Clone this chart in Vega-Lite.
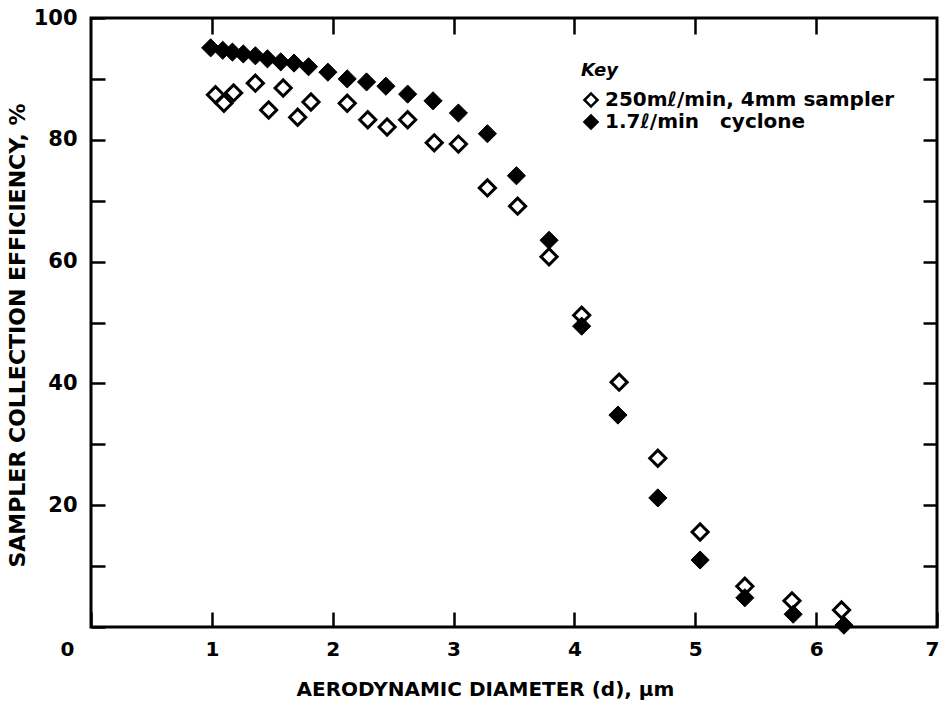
{
  "$schema": "https://vega.github.io/schema/vega-lite/v6.json",
  "width": 846,
  "height": 609,
  "autosize": "none",
  "padding": {"left": 91, "top": 18, "right": 4, "bottom": 86},
  "background": "white",
  "config": {
    "view": {"stroke": "black", "strokeWidth": 3},
    "font": "DejaVu Sans",
    "axis": {
      "domain": false,
      "grid": false,
      "tickColor": "black",
      "tickWidth": 2.5,
      "labelColor": "black",
      "titleColor": "black",
      "labelFont": "DejaVu Sans",
      "titleFont": "DejaVu Sans",
      "labelFontWeight": "bold",
      "titleFontWeight": "bold"
    }
  },
  "data": {
    "values": [
      {"d": 1.03, "eff": 87.4, "series": "open"},
      {"d": 1.10, "eff": 86.0, "series": "open"},
      {"d": 1.18, "eff": 87.7, "series": "open"},
      {"d": 1.36, "eff": 89.3, "series": "open"},
      {"d": 1.47, "eff": 84.9, "series": "open"},
      {"d": 1.59, "eff": 88.5, "series": "open"},
      {"d": 1.71, "eff": 83.7, "series": "open"},
      {"d": 1.82, "eff": 86.2, "series": "open"},
      {"d": 2.12, "eff": 86.0, "series": "open"},
      {"d": 2.29, "eff": 83.3, "series": "open"},
      {"d": 2.45, "eff": 82.1, "series": "open"},
      {"d": 2.62, "eff": 83.3, "series": "open"},
      {"d": 2.84, "eff": 79.5, "series": "open"},
      {"d": 3.04, "eff": 79.3, "series": "open"},
      {"d": 3.28, "eff": 72.1, "series": "open"},
      {"d": 3.53, "eff": 69.1, "series": "open"},
      {"d": 3.79, "eff": 60.8, "series": "open"},
      {"d": 4.06, "eff": 51.2, "series": "open"},
      {"d": 4.37, "eff": 40.2, "series": "open"},
      {"d": 4.69, "eff": 27.7, "series": "open"},
      {"d": 5.04, "eff": 15.6, "series": "open"},
      {"d": 5.41, "eff": 6.7, "series": "open"},
      {"d": 5.80, "eff": 4.3, "series": "open"},
      {"d": 6.21, "eff": 2.8, "series": "open"},
      {"d": 0.99, "eff": 95.1, "series": "filled"},
      {"d": 1.09, "eff": 94.7, "series": "filled"},
      {"d": 1.17, "eff": 94.4, "series": "filled"},
      {"d": 1.26, "eff": 94.1, "series": "filled"},
      {"d": 1.36, "eff": 93.8, "series": "filled"},
      {"d": 1.46, "eff": 93.3, "series": "filled"},
      {"d": 1.57, "eff": 92.8, "series": "filled"},
      {"d": 1.68, "eff": 92.6, "series": "filled"},
      {"d": 1.80, "eff": 92.0, "series": "filled"},
      {"d": 1.96, "eff": 91.1, "series": "filled"},
      {"d": 2.12, "eff": 90.0, "series": "filled"},
      {"d": 2.28, "eff": 89.5, "series": "filled"},
      {"d": 2.44, "eff": 88.8, "series": "filled"},
      {"d": 2.62, "eff": 87.5, "series": "filled"},
      {"d": 2.83, "eff": 86.4, "series": "filled"},
      {"d": 3.04, "eff": 84.4, "series": "filled"},
      {"d": 3.28, "eff": 81.0, "series": "filled"},
      {"d": 3.52, "eff": 74.1, "series": "filled"},
      {"d": 3.79, "eff": 63.5, "series": "filled"},
      {"d": 4.06, "eff": 49.4, "series": "filled"},
      {"d": 4.36, "eff": 34.8, "series": "filled"},
      {"d": 4.69, "eff": 21.2, "series": "filled"},
      {"d": 5.04, "eff": 11.0, "series": "filled"},
      {"d": 5.41, "eff": 4.8, "series": "filled"},
      {"d": 5.81, "eff": 2.1, "series": "filled"},
      {"d": 6.23, "eff": 0.3, "series": "filled"}
    ]
  },
  "layer": [
    {
      "transform": [{"filter": "datum.series == 'open'"}],
      "mark": {"type": "point", "shape": "diamond", "stroke": "black", "strokeWidth": 3, "size": 260, "opacity": 1, "filled": true},
      "encoding": {
        "x": {
          "field": "d", "type": "quantitative",
          "scale": {"domain": [0, 7], "nice": false},
          "axis": {
            "orient": "bottom",
            "values": [0, 1, 2, 3, 4, 5, 6, 7],
            "tickSize": -15,
            "labelPadding": 27,
            "labelFontSize": 20,
            "labelOffset": {"condition": [{"test": "datum.value == 0", "value": -24}, {"test": "datum.value == 7", "value": -5}], "value": 0},
            "labelFlush": false,
            "title": "AERODYNAMIC DIAMETER (d), μm",
            "titleFontSize": 20,
            "titleFontWeight": "bold",
            "titlePadding": 20,
            "titleX": 394
          }
        },
        "y": {
          "field": "eff", "type": "quantitative",
          "scale": {"domain": [0, 100], "nice": false},
          "axis": {
            "orient": "left",
            "values": [0, 10, 20, 30, 40, 50, 60, 70, 80, 90, 100],
            "labelExpr": "datum.value % 20 == 0 && datum.value > 0 ? datum.label : ''",
            "tickSize": -14,
            "labelPadding": 28,
            "labelFontSize": 21,
            "labelFlush": false,
            "title": "SAMPLER COLLECTION EFFICIENCY, %",
            "titleFontSize": 22,
            "titlePadding": 4,
            "titleY": 317
          }
        },
        "fill": {
          "field": "series", "type": "nominal",
          "scale": {"domain": ["open", "filled"], "range": ["white", "black"]},
          "legend": {
            "orient": "none",
            "legendX": 490,
            "legendY": 44,
            "title": "Key",
            "titleFont": "DejaVu Sans",
            "titleFontSize": 18,
            "titleFontStyle": "italic",
            "titleFontWeight": "bold",
            "titleColor": "black",
            "titlePadding": 10,
            "labelExpr": "datum.value == 'open' ? '250mℓ/min, 4mm sampler' : '1.7ℓ/min\u00a0\u00a0 cyclone'",
            "labelFont": "DejaVu Sans",
            "labelFontSize": 20,
            "labelFontWeight": "bold",
            "labelColor": "black",
            "labelLimit": 500,
            "symbolType": "diamond",
            "symbolSize": 170,
            "symbolStrokeColor": "black",
            "symbolStrokeWidth": 2.5,
            "symbolOffset": 0,
            "labelOffset": 4,
            "rowPadding": -3
          }
        }
      }
    },
    {
      "transform": [{"filter": "datum.series == 'filled'"}],
      "mark": {"type": "point", "shape": "diamond", "stroke": "black", "strokeWidth": 1, "size": 330, "opacity": 1, "filled": true},
      "encoding": {
        "x": {
          "field": "d", "type": "quantitative",
          "axis": {"orient": "top", "values": [1, 2, 3, 4, 5, 6], "tickSize": -16, "labels": false, "title": null}
        },
        "y": {
          "field": "eff", "type": "quantitative",
          "axis": {"orient": "right", "values": [10, 20, 30, 40, 50, 60, 70, 80, 90], "tickSize": -14, "labels": false, "title": null}
        },
        "fill": {"field": "series", "type": "nominal"}
      }
    }
  ]
}
